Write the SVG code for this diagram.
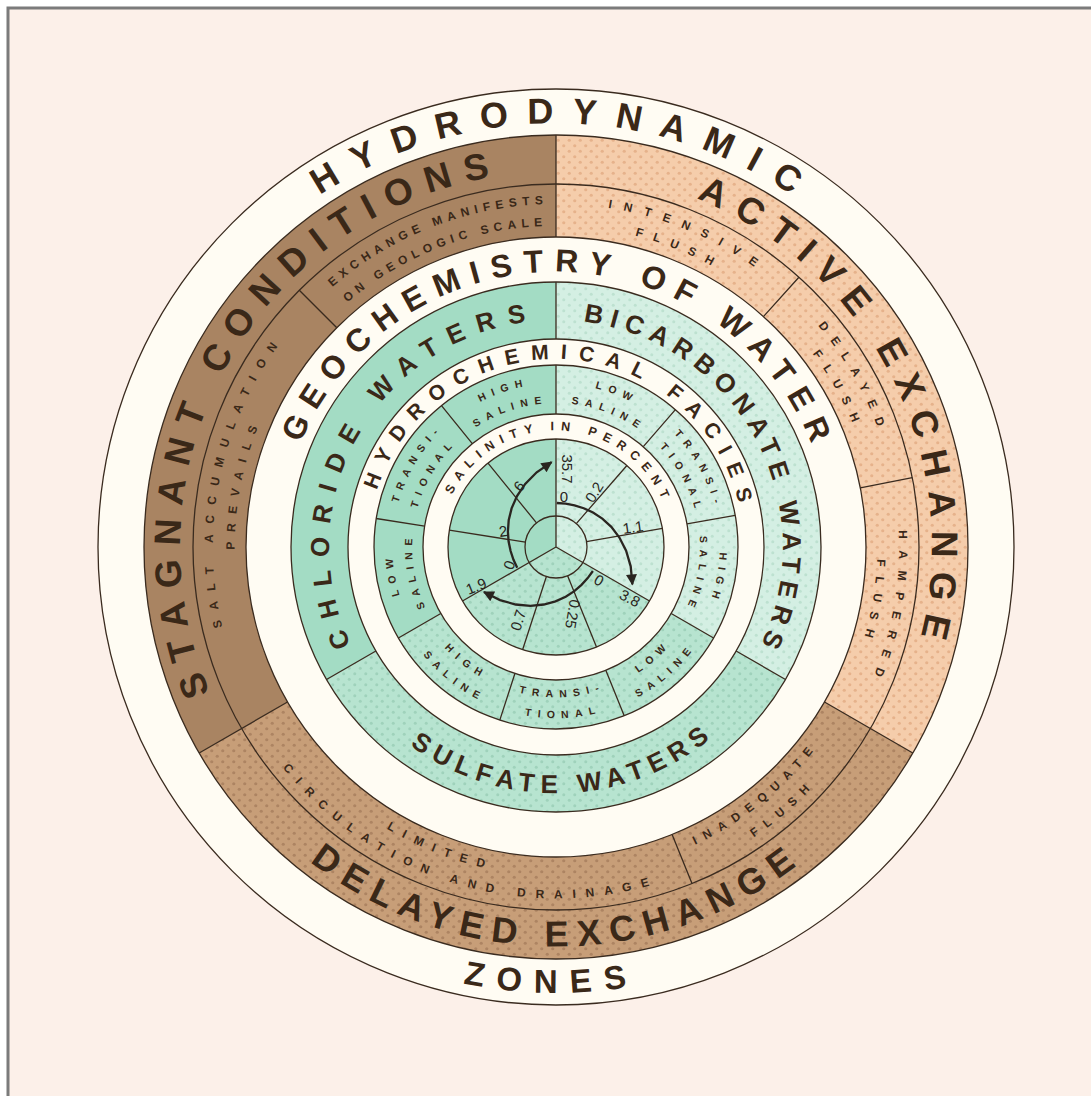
<svg xmlns="http://www.w3.org/2000/svg" xmlns:xlink="http://www.w3.org/1999/xlink" width="1091" height="1096" viewBox="0 0 1091 1096">
<style>
.ln{fill:none;stroke:#3a2b1f;stroke-width:1.3}
.t{font-family:"Liberation Sans","DejaVu Sans",Arial,sans-serif;fill:#3a2818;text-anchor:middle;font-weight:bold}
.big{font-size:37px}
.geo{font-size:32px}
.wat{font-size:26px}
.sub{font-size:12px}
.fac{font-size:10.5px;letter-spacing:6.5px}
.num{font-family:"Liberation Sans","DejaVu Sans",Arial,sans-serif;font-size:15px;fill:#2a2520;text-anchor:middle;dominant-baseline:central}
.arr{fill:none;stroke:#2a2520;stroke-width:2.3}
</style>
<defs>
<pattern id="pAct" width="11" height="11" patternUnits="userSpaceOnUse"><rect width="11" height="11" fill="#f5cdab"/><circle cx="2.75" cy="2.75" r="1.6" fill="#e6b28b"/><circle cx="8.25" cy="8.25" r="1.6" fill="#e6b28b"/></pattern>
<pattern id="pDel" width="11" height="11" patternUnits="userSpaceOnUse"><rect width="11" height="11" fill="#c79e78"/><circle cx="2.75" cy="2.75" r="1.6" fill="#ad8462"/><circle cx="8.25" cy="8.25" r="1.6" fill="#ad8462"/></pattern>
<pattern id="pBic" width="11" height="11" patternUnits="userSpaceOnUse"><rect width="11" height="11" fill="#d4efe3"/><circle cx="2.75" cy="2.75" r="1.5" fill="#bde1d0"/><circle cx="8.25" cy="8.25" r="1.5" fill="#bde1d0"/></pattern>
<pattern id="pSul" width="11" height="11" patternUnits="userSpaceOnUse"><rect width="11" height="11" fill="#b7e4d0"/><circle cx="2.75" cy="2.75" r="1.5" fill="#9fd2bb"/><circle cx="8.25" cy="8.25" r="1.5" fill="#9fd2bb"/></pattern>
<marker id="ah" viewBox="0 0 10 10" refX="9" refY="5" markerWidth="15" markerHeight="11" markerUnits="userSpaceOnUse" orient="auto"><path d="M0,0 L10,5 L0,10 z" fill="#2a2520"/></marker>
<path id="t423" d="M134.1 510.1 A423.5 423.5 0 0 1 977.9 510.1"/>
<path id="t376" d="M182.8 514.3 A374.5 374.5 0 0 1 929.2 514.3"/>
<path id="t277" d="M281.3 523 A275.8 275.8 0 0 1 830.7 523"/>
<path id="t228" d="M329.7 527.2 A227.2 227.2 0 0 1 782.3 527.2"/>
<path id="t188" d="M368.9 530.6 A187.8 187.8 0 0 1 743.1 530.6"/>
<path id="t116" d="M440.2 536.9 A116.2 116.2 0 0 1 671.8 536.9"/>
<path id="t343" d="M214.3 517.1 A343 343 0 0 1 897.7 517.1"/>
<path id="t321" d="M236.2 519 A321 321 0 0 1 875.8 519"/>
<path id="t163" d="M393.2 532.8 A163.4 163.4 0 0 1 718.8 532.8"/>
<path id="t143" d="M413.1 534.5 A143.4 143.4 0 0 1 698.9 534.5"/>
<path id="b446" d="M111.7 585.9 A446 446 0 0 0 1000.3 585.9"/>
<path id="b400" d="M158.3 581.8 A399.2 399.2 0 0 0 953.7 581.8"/>
<path id="b245" d="M311.1 568.5 A245.8 245.8 0 0 0 800.9 568.5"/>
<path id="b329" d="M228.3 575.7 A329 329 0 0 0 883.7 575.7"/>
<path id="b351" d="M206.3 577.6 A351 351 0 0 0 905.7 577.6"/>
<path id="b150" d="M406 560.1 A150.6 150.6 0 0 0 706 560.1"/>
<path id="b170" d="M386 561.9 A170.6 170.6 0 0 0 726 561.9"/>
</defs>

<rect width="1091" height="1096" fill="#ffffff"/>
<rect x="8" y="8" width="1100" height="1100" fill="#fcf0e9" stroke="#7b7b7b" stroke-width="3"/>

<g id="outer-ring">
<circle cx="556" cy="547" r="458" fill="#fffcf3" stroke="#3a2b1f" stroke-width="1.3"/>
</g>

<g id="zone-stagnant"><path d="M199.2 753 A412 412 0 0 1 556 135 L556 237 A310 310 0 0 0 287.5 702 Z" fill="#a98462"/></g>
<g id="zone-active"><path d="M556 135 A412 412 0 0 1 912.8 753 L824.5 702 A310 310 0 0 0 556 237 Z" fill="url(#pAct)"/></g>
<g id="zone-delayed"><path d="M912.8 753 A412 412 0 0 1 199.2 753 L287.5 702 A310 310 0 0 0 824.5 702 Z" fill="url(#pDel)"/></g>

<g id="geo-chloride"><path d="M326.5 679.5 A265 265 0 0 1 556 282 L556 339 A208 208 0 0 0 375.9 651 Z" fill="#a3dcc4"/></g>
<g id="geo-bicarbonate"><path d="M556 282 A265 265 0 0 1 785.5 679.5 L736.1 651 A208 208 0 0 0 556 339 Z" fill="url(#pBic)"/></g>
<g id="geo-sulfate"><path d="M785.5 679.5 A265 265 0 0 1 326.5 679.5 L375.9 651 A208 208 0 0 0 736.1 651 Z" fill="url(#pSul)"/></g>

<g id="facies-chloride"><path d="M398.4 638 A182 182 0 0 1 556 365 L556 414 A133 133 0 0 0 440.8 613.5 Z" fill="#a3dcc4"/></g>
<g id="facies-bicarbonate"><path d="M556 365 A182 182 0 0 1 713.6 638 L671.2 613.5 A133 133 0 0 0 556 414 Z" fill="url(#pBic)"/></g>
<g id="facies-sulfate"><path d="M713.6 638 A182 182 0 0 1 398.4 638 L440.8 613.5 A133 133 0 0 0 671.2 613.5 Z" fill="url(#pSul)"/></g>

<g id="salinity-chloride"><path d="M556 547 L462.5 601 A108 108 0 0 1 556 439 Z" fill="#a3dcc4"/></g>
<g id="salinity-bicarbonate"><path d="M556 547 L556 439 A108 108 0 0 1 649.5 601 Z" fill="url(#pBic)"/></g>
<g id="salinity-sulfate"><path d="M556 547 L649.5 601 A108 108 0 0 1 462.5 601 Z" fill="url(#pSul)"/></g>

<g id="outlines">
<circle class="ln" cx="556" cy="547" r="412"/>
<circle class="ln" cx="556" cy="547" r="363"/>
<circle class="ln" cx="556" cy="547" r="310"/>
<circle class="ln" cx="556" cy="547" r="265"/>
<circle class="ln" cx="556" cy="547" r="208"/>
<circle class="ln" cx="556" cy="547" r="182"/>
<circle class="ln" cx="556" cy="547" r="133"/>
<circle class="ln" cx="556" cy="547" r="108"/>
<circle class="ln" cx="556" cy="547" r="31"/>
</g>

<g id="connectors">
<path class="ln" d="M287.5 702 L199.2 753 M556 237 L556 135 M824.5 702 L912.8 753"/>
<path class="ln" d="M336.8 327.8 L299.3 290.3 M763.4 316.6 L798.9 277.3 M860.3 487.9 L912.3 477.7 M672.1 834.4 L692 883.6"/>
<path class="ln" d="M375.9 651 L326.5 679.5 M556 339 L556 282 M736.1 651 L785.5 679.5"/>
<path class="ln" d="M440.8 613.5 L398.4 638 M556 414 L556 365 M671.2 613.5 L713.6 638"/>
<path class="ln" d="M424.6 526.2 L376.2 518.5 M472.3 443.6 L441.5 405.6 M643.3 446.6 L675.4 409.6 M687 523.9 L735.2 515.4 M605.8 670.3 L624.2 715.8 M514.9 673.5 L499.8 720.1"/>
<path class="ln" d="M556 547 L462.5 601 M556 547 L556 439 M556 547 L649.5 601"/>
<path class="ln" d="M525.4 542.2 L449.3 530.1 M536.5 522.9 L488 463.1 M576.3 523.6 L626.9 465.5 M586.5 541.6 L662.4 528.3 M567.6 575.7 L596.5 647.1 M546.4 576.5 L522.6 649.7"/>
<path class="arr" marker-end="url(#ah)" d="M517.2 567.7 L513.4 559.6 L510.6 551 L508.6 541.6 L507.9 531.4 L508.7 520.3 L511.6 508.4 L517 496.1 L525.2 483.9 L536.7 472.3 L551.6 462.1"/>
<path class="arr" marker-end="url(#ah)" d="M556.8 503 L565.6 503.7 L574.5 505.3 L583.7 508.2 L593 512.5 L602.3 518.6 L611.3 526.9 L619.4 537.5 L626.1 550.7 L630.7 566.3 L632.4 584.3"/>
<path class="arr" marker-end="url(#ah)" d="M592.9 571 L587.7 578.1 L581.5 584.8 L574.3 591.1 L565.7 596.7 L555.5 601.3 L543.8 604.5 L530.4 605.8 L515.7 604.5 L500 600.1 L483.9 592"/>
</g>

<g id="labels-outer">
<text class="t" style="font-size:36px;letter-spacing:18.4px" transform="rotate(1.2 556 547)"><textPath href="#t423" startOffset="50%">HYDRODYNAMIC</textPath></text>
<text class="t" style="font-size:33px;letter-spacing:12.9px" transform="rotate(0.6 556 547)"><textPath href="#b446" startOffset="50%">ZONES</textPath></text>
<text class="t big" style="letter-spacing:12.7px" transform="rotate(-60.5 556 547)"><textPath href="#t376" startOffset="50%">STAGNANT CONDITIONS</textPath></text>
<text class="t big" style="letter-spacing:12.9px" transform="rotate(63.8 556 547)"><textPath href="#t376" startOffset="50%">ACTIVE EXCHANGE</textPath></text>
<text class="t" style="font-size:36px;letter-spacing:9.4px" transform="rotate(-0.2 556 547)"><textPath href="#b400" startOffset="50%">DELAYED EXCHANGE</textPath></text>
</g>

<g id="labels-subzones">
<text class="t sub" style="letter-spacing:5.3px" transform="rotate(-21 556 547)"><textPath href="#t343" startOffset="50%">EXCHANGE MANIFESTS</textPath></text>
<text class="t sub" style="letter-spacing:5.2px" transform="rotate(-21 556 547)"><textPath href="#t321" startOffset="50%">ON GEOLOGIC SCALE</textPath></text>
<text class="t sub" style="letter-spacing:10.3px" transform="rotate(-78 556 547)"><textPath href="#t343" startOffset="50%">SALT ACCUMULATION</textPath></text>
<text class="t sub" style="letter-spacing:9.4px" transform="rotate(-78.5 556 547)"><textPath href="#t321" startOffset="50%">PREVAILS</textPath></text>
<text class="t sub" style="letter-spacing:12px" transform="rotate(23 556 547)"><textPath href="#t343" startOffset="50%">INTENSIVE</textPath></text>
<text class="t sub" style="letter-spacing:10.6px" transform="rotate(22.5 556 547)"><textPath href="#t321" startOffset="50%">FLUSH</textPath></text>
<text class="t sub" style="letter-spacing:10.3px" transform="rotate(60.5 556 547)"><textPath href="#t343" startOffset="50%">DELAYED</textPath></text>
<text class="t sub" style="letter-spacing:10px" transform="rotate(61 556 547)"><textPath href="#t321" startOffset="50%">FLUSH</textPath></text>
<text class="t sub" style="letter-spacing:11.3px" transform="rotate(100.5 556 547)"><textPath href="#t343" startOffset="50%">HAMPERED</textPath></text>
<text class="t sub" style="letter-spacing:9.6px" transform="rotate(100 556 547)"><textPath href="#t321" startOffset="50%">FLUSH</textPath></text>
<text class="t sub" style="letter-spacing:9.6px" transform="rotate(21 556 547)"><textPath href="#b329" startOffset="50%">LIMITED</textPath></text>
<text class="t sub" style="letter-spacing:10px" transform="rotate(17 556 547)"><textPath href="#b351" startOffset="50%">CIRCULATION AND DRAINAGE</textPath></text>
<text class="t sub" style="letter-spacing:8.2px" transform="rotate(-39 556 547)"><textPath href="#b329" startOffset="50%">INADEQUATE</textPath></text>
<text class="t sub" style="letter-spacing:8.6px" transform="rotate(-41 556 547)"><textPath href="#b351" startOffset="50%">FLUSH</textPath></text>
</g>

<g id="labels-geochem">
<text class="t geo" style="letter-spacing:11px" transform="rotate(1.2 556 547)"><textPath href="#t277" startOffset="50%">GEOCHEMISTRY OF WATER</textPath></text>
<text class="t wat" style="letter-spacing:12.5px" transform="rotate(-60 556 547)"><textPath href="#t228" startOffset="50%">CHLORIDE WATERS</textPath></text>
<text class="t wat" style="letter-spacing:7.2px" transform="rotate(62 556 547)"><textPath href="#t228" startOffset="50%">BICARBONATE WATERS</textPath></text>
<text class="t wat" style="letter-spacing:6.9px" transform="rotate(-2 556 547)"><textPath href="#b245" startOffset="50%">SULFATE WATERS</textPath></text>
<text class="t" style="font-size:21px;letter-spacing:11.6px" transform="rotate(3.8 556 547)"><textPath href="#t188" startOffset="50%">HYDROCHEMICAL FACIES</textPath></text>
<text class="t" style="font-size:12.5px;letter-spacing:7px" transform="rotate(2.8 556 547)"><textPath href="#t116" startOffset="50%">SALINITY IN PERCENT</textPath></text>
</g>

<g id="labels-facies">
<text class="t fac" transform="rotate(-99.5 556 547)"><textPath href="#t163" startOffset="50%">LOW</textPath></text>
<text class="t fac" transform="rotate(-99.5 556 547)"><textPath href="#t143" startOffset="50%">SALINE</textPath></text>
<text class="t fac" transform="rotate(-59 556 547)"><textPath href="#t163" startOffset="50%">TRANSI-</textPath></text>
<text class="t fac" transform="rotate(-59 556 547)"><textPath href="#t143" startOffset="50%">TIONAL</textPath></text>
<text class="t fac" transform="rotate(-18.5 556 547)"><textPath href="#t163" startOffset="50%">HIGH</textPath></text>
<text class="t fac" transform="rotate(-18.5 556 547)"><textPath href="#t143" startOffset="50%">SALINE</textPath></text>
<text class="t fac" transform="rotate(21.5 556 547)"><textPath href="#t163" startOffset="50%">LOW</textPath></text>
<text class="t fac" transform="rotate(21.5 556 547)"><textPath href="#t143" startOffset="50%">SALINE</textPath></text>
<text class="t fac" transform="rotate(61.5 556 547)"><textPath href="#t163" startOffset="50%">TRANSI-</textPath></text>
<text class="t fac" transform="rotate(61.5 556 547)"><textPath href="#t143" startOffset="50%">TIONAL</textPath></text>
<text class="t fac" transform="rotate(101 556 547)"><textPath href="#t163" startOffset="50%">HIGH</textPath></text>
<text class="t fac" transform="rotate(101 556 547)"><textPath href="#t143" startOffset="50%">SALINE</textPath></text>
<text class="t fac" transform="rotate(-41.5 556 547)"><textPath href="#b150" startOffset="50%">LOW</textPath></text>
<text class="t fac" transform="rotate(-41.5 556 547)"><textPath href="#b170" startOffset="50%">SALINE</textPath></text>
<text class="t fac" transform="rotate(-2.5 556 547)"><textPath href="#b150" startOffset="50%">TRANSI-</textPath></text>
<text class="t fac" transform="rotate(-2.5 556 547)"><textPath href="#b170" startOffset="50%">TIONAL</textPath></text>
<text class="t fac" transform="rotate(38 556 547)"><textPath href="#b150" startOffset="50%">HIGH</textPath></text>
<text class="t fac" transform="rotate(38 556 547)"><textPath href="#b170" startOffset="50%">SALINE</textPath></text>
</g>

<g id="labels-salinity">
<text class="num" x="567" y="469" transform="rotate(90 567 469)">35.7</text>
<text class="num" x="564" y="496">0</text>
<text class="num" x="594" y="492" transform="rotate(-58 594 492)">0.2</text>
<text class="num" x="633" y="527" transform="rotate(-8 633 527)">1.1</text>
<text class="num" x="630" y="598" transform="rotate(28 630 598)">3.8</text>
<text class="num" x="599" y="580" transform="rotate(30 599 580)">0</text>
<text class="num" x="573" y="614" transform="rotate(100 573 614)">0.25</text>
<text class="num" x="518" y="620" transform="rotate(-72 518 620)">0.7</text>
<text class="num" x="476" y="586" transform="rotate(-22 476 586)">1.9</text>
<text class="num" x="509" y="565" transform="rotate(-70 509 565)">0</text>
<text class="num" x="503" y="531" transform="rotate(-8 503 531)">2</text>
<text class="num" x="519" y="486" transform="rotate(-50 519 486)">6</text>
</g>
</svg>
